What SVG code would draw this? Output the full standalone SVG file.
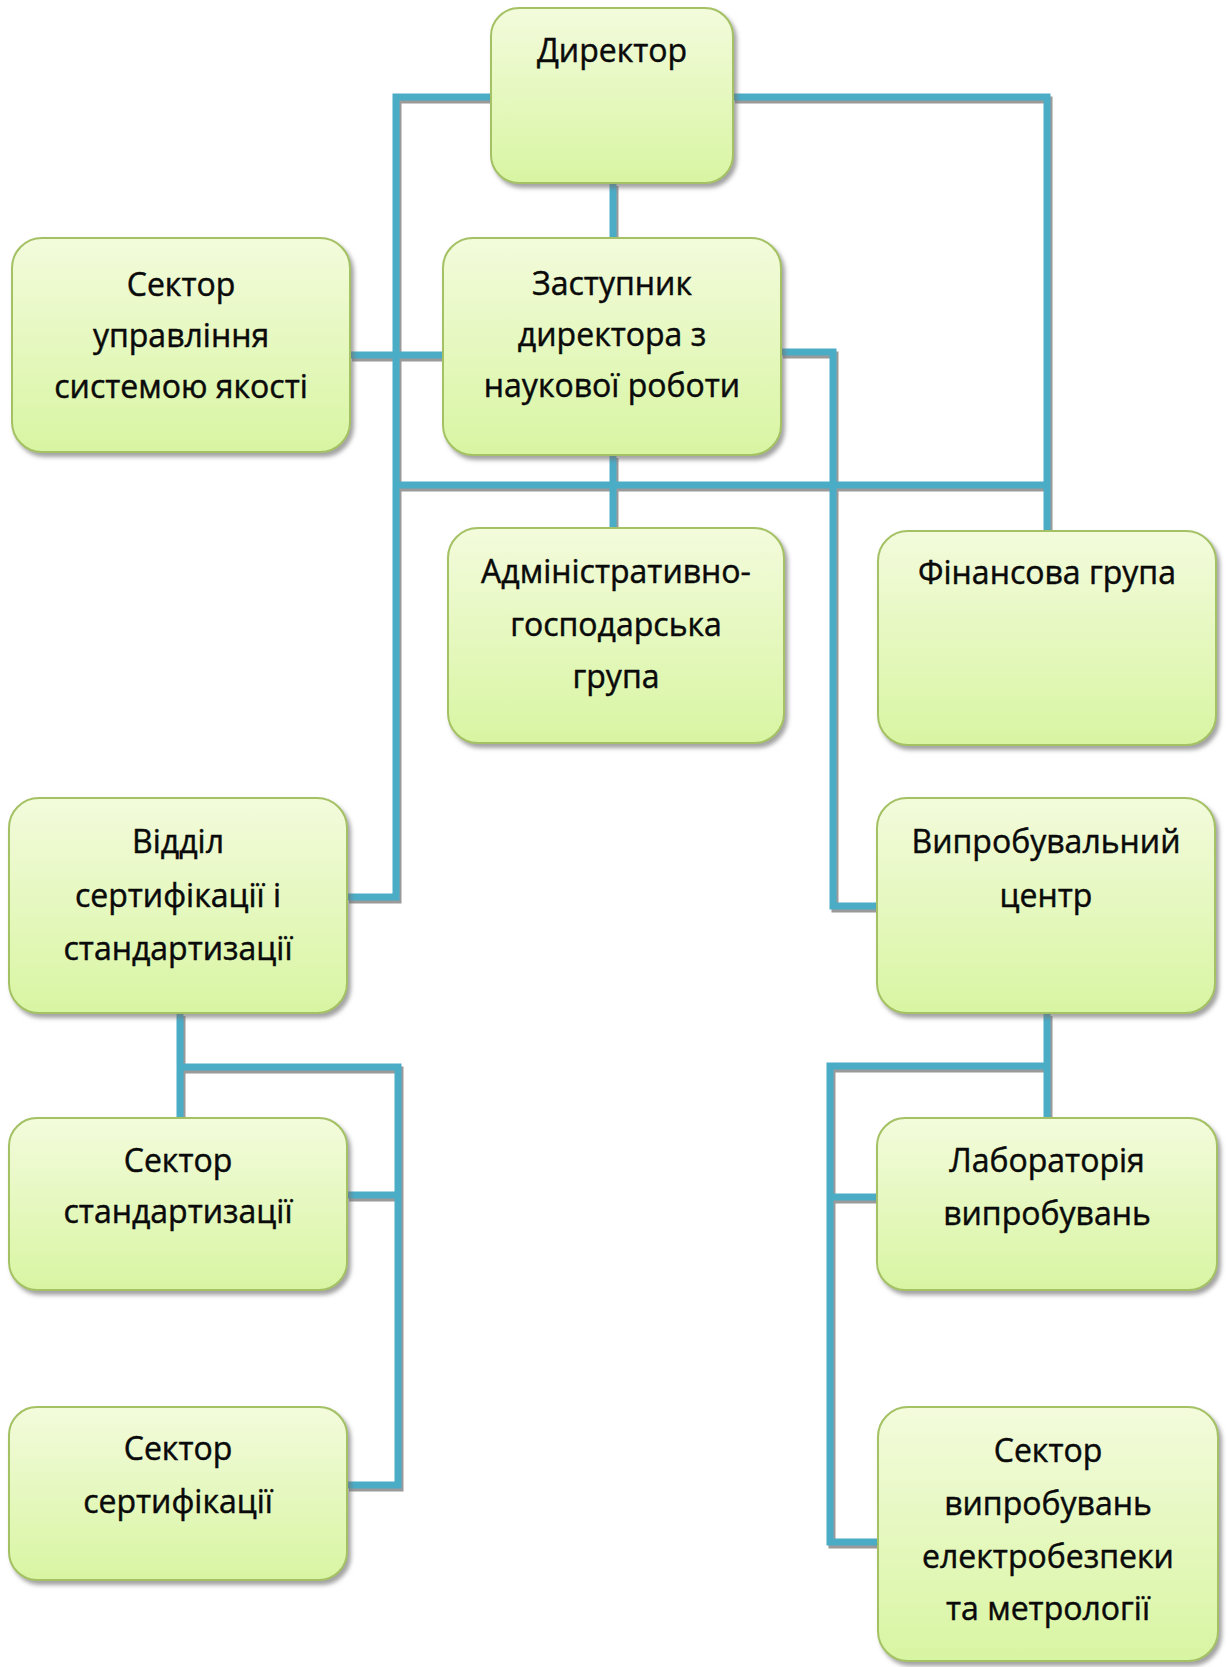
<svg xmlns="http://www.w3.org/2000/svg" width="1228" height="1667" viewBox="0 0 1228 1667">
<defs>
<linearGradient id="g" x1="0" y1="0" x2="0" y2="1">
<stop offset="0" stop-color="#f3fbdc"/>
<stop offset="1" stop-color="#d8f5a2"/>
</linearGradient>
<filter id="sh" x="-10%" y="-10%" width="125%" height="130%">
<feDropShadow dx="3" dy="4" stdDeviation="2" flood-color="#6f6f6f" flood-opacity="0.65"/>
</filter>
</defs>
<style>
.box{fill:url(#g);stroke:#a4c164;stroke-width:2;filter:url(#sh)}
.t{font-family:"Open Sans","Noto Sans",sans-serif;font-size:32px;fill:#0a0a0a;stroke:#0a0a0a;stroke-width:0.45;text-anchor:middle}
.c{fill:none;stroke:#4bacc6;stroke-width:7;stroke-linecap:butt;stroke-linejoin:miter}
.cs{fill:none;stroke:#9a9a9a;stroke-width:7;stroke-linejoin:miter}
</style>
<rect width="1228" height="1667" fill="#ffffff"/>
<g id="connectors">
<g transform="translate(2,3)">
<path class="cs" d="M491,97H396V897H347"/>
<path class="cs" d="M733,97H1047V531"/>
<path class="cs" d="M613,183V238"/>
<path class="cs" d="M350,355H443"/>
<path class="cs" d="M396,485H1047"/>
<path class="cs" d="M613,455V528"/>
<path class="cs" d="M781,352H833V906H877"/>
<path class="cs" d="M180,1013V1118M180,1067H398V1485H347M347,1195H398"/>
<path class="cs" d="M1047,1013V1118M1047,1066H830V1542H878M830,1197H877"/>
</g>
<path class="c" d="M491,97H396V897H347"/>
<path class="c" d="M733,97H1047V531"/>
<path class="c" d="M613,183V238"/>
<path class="c" d="M350,355H443"/>
<path class="c" d="M396,485H1047"/>
<path class="c" d="M613,455V528"/>
<path class="c" d="M781,352H833V906H877"/>
<path class="c" d="M180,1013V1118M180,1067H398V1485H347M347,1195H398"/>
<path class="c" d="M1047,1013V1118M1047,1066H830V1542H878M830,1197H877"/>
</g>
<g id="director">
<rect class="box" x="491" y="8" width="242" height="175" rx="28"/>
<text class="t" x="612" y="62">Директор</text>
</g>
<g id="quality">
<rect class="box" x="12" y="238" width="338" height="214" rx="30"/>
<text class="t" x="181" y="296">Сектор</text>
<text class="t" x="181" y="347">управління</text>
<text class="t" x="181" y="398">системою якості</text>
</g>
<g id="deputy">
<rect class="box" x="443" y="238" width="338" height="217" rx="30"/>
<text class="t" x="612" y="295">Заступник</text>
<text class="t" x="612" y="346">директора з</text>
<text class="t" x="612" y="397">наукової роботи</text>
</g>
<g id="admin">
<rect class="box" x="448" y="528" width="336" height="215" rx="30"/>
<text class="t" x="616" y="583">Адміністративно-</text>
<text class="t" x="616" y="636">господарська</text>
<text class="t" x="616" y="688">група</text>
</g>
<g id="finance">
<rect class="box" x="878" y="531" width="338" height="214" rx="30"/>
<text class="t" x="1047" y="584">Фінансова група</text>
</g>
<g id="certdept">
<rect class="box" x="9" y="798" width="338" height="215" rx="30"/>
<text class="t" x="178" y="853">Відділ</text>
<text class="t" x="178" y="907">сертифікації і</text>
<text class="t" x="178" y="960">стандартизації</text>
</g>
<g id="testcenter">
<rect class="box" x="877" y="798" width="338" height="215" rx="30"/>
<text class="t" x="1046" y="853">Випробувальний</text>
<text class="t" x="1046" y="907">центр</text>
</g>
<g id="stdsector">
<rect class="box" x="9" y="1118" width="338" height="172" rx="28"/>
<text class="t" x="178" y="1172">Сектор</text>
<text class="t" x="178" y="1223">стандартизації</text>
</g>
<g id="certsector">
<rect class="box" x="9" y="1407" width="338" height="173" rx="28"/>
<text class="t" x="178" y="1460">Сектор</text>
<text class="t" x="178" y="1513">сертифікації</text>
</g>
<g id="lab">
<rect class="box" x="877" y="1118" width="340" height="172" rx="28"/>
<text class="t" x="1047" y="1172">Лабораторія</text>
<text class="t" x="1047" y="1225">випробувань</text>
</g>
<g id="elsector">
<rect class="box" x="878" y="1407" width="340" height="254" rx="30"/>
<text class="t" x="1048" y="1462">Сектор</text>
<text class="t" x="1048" y="1515">випробувань</text>
<text class="t" x="1048" y="1568">електробезпеки</text>
<text class="t" x="1048" y="1620">та метрології</text>
</g>
</svg>
